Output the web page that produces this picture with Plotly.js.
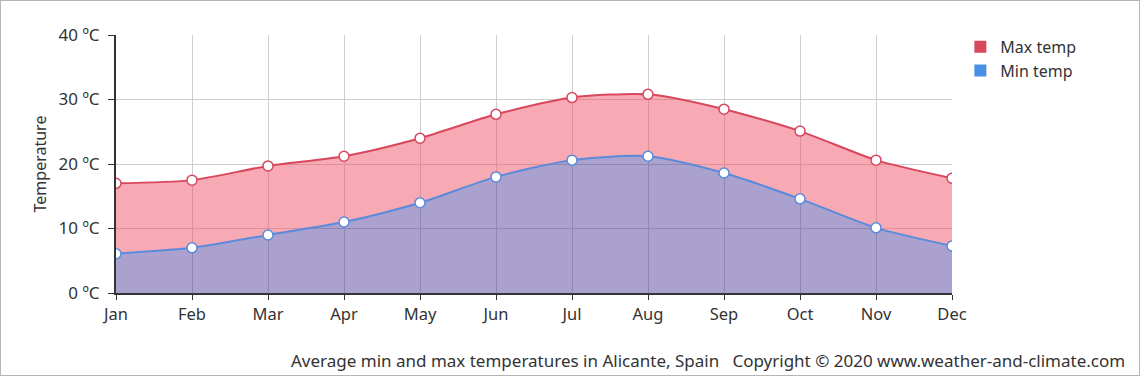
<!DOCTYPE html>
<html><head><meta charset="utf-8">
<script src="https://cdn.plot.ly/plotly-3.0.1.min.js"></script>
<style>html,body{margin:0;padding:0;background:#fff}#c{width:1140px;height:376px;box-sizing:border-box;border:1px solid #b5b5b5}</style>
</head><body><div id="c"></div>
<script>
const months = ["Jan","Feb","Mar","Apr","May","Jun","Jul","Aug","Sep","Oct","Nov","Dec"];
const maxTemp = [17.0,17.5,19.7,21.2,24.0,27.7,30.3,30.8,28.5,25.1,20.6,17.8];
const minTemp = [6.1,7.0,9.0,11.0,14.0,18.0,20.6,21.2,18.6,14.6,10.1,7.3];
const yTicks = [0,10,20,30,40];
const yTickText = yTicks.map(v => v + " ºC");
const font = "Noto Sans, Open Sans, sans-serif";

const traces = [
  {x: months, y: minTemp, type: "scatter", mode: "lines+markers", fill: "tozeroy",
   fillcolor: "rgba(66,46,148,0.45)", line: {color: "#5a8bdb", width: 2, shape: "spline", smoothing: 0.7},
   marker: {size: 10, color: "#ffffff", line: {color: "#5a8bdb", width: 1.5}}, showlegend: false, hoverinfo: "y"},
  {x: months, y: maxTemp, type: "scatter", mode: "lines+markers", fill: "tonexty",
   fillcolor: "rgba(237,64,88,0.45)", line: {color: "#d9475d", width: 2, shape: "spline", smoothing: 0.7},
   marker: {size: 10, color: "#ffffff", line: {color: "#d9475d", width: 1.5}}, showlegend: false, hoverinfo: "y"},
  {x: [null], y: [null], type: "scatter", mode: "markers", name: "Max temp",
   marker: {symbol: "square", size: 8, color: "#d9475d"}},
  {x: [null], y: [null], type: "scatter", mode: "markers", name: "Min temp",
   marker: {symbol: "square", size: 8, color: "#4a90e2"}}
];

const layout = {
  width: 1138, height: 374,
  margin: {l: 115, r: 187, t: 34, b: 82, pad: 0},
  paper_bgcolor: "#ffffff", plot_bgcolor: "#ffffff",
  font: {family: font, size: 16, color: "#333"},
  xaxis: {type: "category", range: [0, 11], showgrid: true, gridcolor: "#cfcfcf",
    showline: true, linecolor: "#333", linewidth: 2, ticks: "outside", ticklen: 5, tickcolor: "#333",
    tickfont: {size: 16.5, color: "#333"}, zeroline: false, fixedrange: true},
  yaxis: {range: [0, 40], tickvals: yTicks, ticktext: yTickText, showgrid: true, gridcolor: "#cfcfcf",
    showline: true, linecolor: "#333", linewidth: 2, ticks: "outside", ticklen: 6, tickcolor: "#333",
    ticklabelstandoff: 5,
    tickfont: {size: 17, color: "#333"}, zeroline: false,
    title: {text: "Temperature", font: {size: 16, color: "#333"}, standoff: 8}},
  legend: {x: 1.01, y: 1.02, xanchor: "left", yanchor: "top", font: {size: 16, color: "#333"},
    traceorder: "normal", itemsizing: "constant", tracegroupgap: 0, bgcolor: "rgba(0,0,0,0)"},
  annotations: [{xref: "paper", yref: "paper", x: 1.209, y: -0.26, xanchor: "right", yanchor: "middle",
    text: "Average min and max temperatures in Alicante, Spain&nbsp;&nbsp;&nbsp;Copyright © 2020 www.weather-and-climate.com",
    showarrow: false, font: {size: 17, color: "#333"}}]
};
Plotly.newPlot("c", traces, layout, {displayModeBar: false, staticPlot: true});
</script></body></html>
